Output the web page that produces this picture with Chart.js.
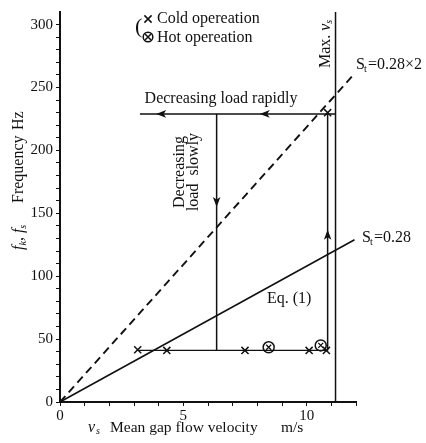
<!DOCTYPE html>
<html>
<head>
<meta charset="utf-8">
<script src="https://cdn.jsdelivr.net/npm/chart.js@4"></script>
<style>
html,body{margin:0;padding:0;background:#fff;}
#wrap{width:426px;height:443px;position:relative;}
</style>
</head>
<body>
<div id="wrap"><canvas id="c" width="426" height="443"></canvas></div>
<script>
// ---- data ----
const xTickLabels = [0, 5, 10];
const yTickLabels = [0, 50, 100, 150, 200, 250, 300];
const lineSt028 = [{x:0,y:0},{x:11.94,y:129}];
const lineSt028x2 = [{x:0,y:0},{x:11.94,y:261}];
const maxVsLine = [{x:11.17,y:0},{x:11.17,y:310}];
const coldLevel = [{x:3.15,y:41},{x:10.85,y:41}];
const slowPath = [{x:6.35,y:41},{x:6.35,y:229}];
const rapidPath = [{x:3.24,y:229},{x:11.17,y:229}];
const risePath = [{x:10.85,y:41},{x:10.85,y:229}];
const coldPoints = [{x:3.15,y:41.5},{x:4.33,y:41},{x:7.5,y:41},{x:10.1,y:41},{x:10.8,y:41},{x:10.85,y:230}];
const hotPoints = [{x:8.46,y:43.5},{x:10.57,y:45}];
// arrowheads: position and direction
const arrows = [
  {x:4.1,y:229,dir:'left'},
  {x:8.3,y:229,dir:'left'},
  {x:6.35,y:159,dir:'down'},
  {x:10.85,y:133,dir:'up'}
];

const SERIF = '"Liberation Serif", "DejaVu Serif", serif';
const FS = 16;

function lineDs(data, dash, w){
  return {type:'scatter', data, showLine:true, borderColor:'#111', borderWidth:w||1.5,
    borderDash: dash||[], pointRadius:0, fill:false};
}

const overlay = {
  id:'overlay',
  afterDatasetsDraw(chart){
    const ctx = chart.ctx, xs = chart.scales.x, ys = chart.scales.y;
    ctx.save();
    ctx.fillStyle = '#111'; ctx.strokeStyle = '#111';
    // arrowheads
    arrows.forEach(a=>{
      const px = xs.getPixelForValue(a.x), py = ys.getPixelForValue(a.y);
      ctx.save(); ctx.translate(px,py);
      const rot = {left:Math.PI, right:0, up:-Math.PI/2, down:Math.PI/2}[a.dir];
      ctx.rotate(rot);
      ctx.beginPath(); ctx.moveTo(5,0); ctx.lineTo(-5,-3.8); ctx.lineTo(-2.5,0); ctx.lineTo(-5,3.8); ctx.closePath(); ctx.fill();
      ctx.restore();
    });
    const F = (s, it) => (it ? 'italic ' : '') + s + 'px ' + SERIF;
    // texts
    ctx.textBaseline = 'middle';
    ctx.font = F(FS);
    ctx.textAlign = 'center';
    ctx.fillText('Decreasing load rapidly', 221, 99);
    ctx.textAlign = 'left';
    ctx.fillText('Eq. (1)', 267, 299);
    // St labels
    function stLabel(x,y,rest){
      ctx.textAlign='left';
      ctx.font = F(FS);
      ctx.fillText('S', x, y);
      const w = ctx.measureText('S').width;
      ctx.font = F(10);
      ctx.fillText('t', x+w-1, y+4);
      ctx.font = F(FS);
      ctx.fillText(rest, x+w+3, y);
    }
    stLabel(356, 65, '=0.28\u00D72');
    stLabel(362, 238, '=0.28');
    // Decreasing load slowly (rotated)
    ctx.save();
    ctx.translate(180, 172); ctx.rotate(-Math.PI/2);
    ctx.textAlign='center'; ctx.font = F(FS);
    ctx.fillText('Decreasing', 0, 0);
    ctx.fillText('load  slowly', 0, 14);
    ctx.restore();
    // Max. vs
    ctx.save();
    ctx.translate(326, 40); ctx.rotate(-Math.PI/2);
    ctx.textAlign='left'; ctx.font = F(FS);
    const mw = ctx.measureText('Max. ').width;
    ctx.fillText('Max. ', -28, 0);
    ctx.font = F(FS, true);
    ctx.fillText('v', -28+mw, 0);
    ctx.font = F(10, true);
    ctx.fillText('s', -28+mw+7, 3);
    ctx.restore();
    // Legend
    ctx.textAlign='left';
    ctx.font = F(22);
    ctx.fillText('(', 135, 27);
    ctx.font = F(FS);
    ctx.fillText('Cold opereation', 157, 19);
    ctx.fillText('Hot opereation', 157, 38);
    ctx.lineWidth = 1.5;
    function cross(cx,cy,r){
      ctx.beginPath();
      ctx.moveTo(cx-r,cy-r); ctx.lineTo(cx+r,cy+r);
      ctx.moveTo(cx+r,cy-r); ctx.lineTo(cx-r,cy+r);
      ctx.stroke();
    }
    cross(148,19,3.6);
    ctx.beginPath(); ctx.arc(148,37,4.8,0,Math.PI*2); ctx.stroke();
    cross(148,37,3);
    // Y axis title
    ctx.save();
    ctx.translate(19, 0); ctx.rotate(-Math.PI/2);
    ctx.textAlign='left';
    let pos = -250;
    ctx.font = F(FS, true); ctx.fillText('f', pos, 0); pos += ctx.measureText('f').width;
    ctx.font = F(10, true); ctx.fillText('k', pos, 4); pos += ctx.measureText('k').width;
    ctx.font = F(FS); ctx.fillText(', ', pos, 0); pos += ctx.measureText(', ').width;
    ctx.font = F(FS, true); ctx.fillText('f', pos, 0); pos += ctx.measureText('f').width;
    ctx.font = F(10, true); ctx.fillText('s', pos, 4);
    ctx.font = F(FS); ctx.fillText('Frequency', -203, 0);
    ctx.fillText('Hz', -130, 0);
    ctx.restore();
    // X axis title
    ctx.textAlign='left';
    ctx.font = F(FS, true); ctx.fillText('v', 88, 428);
    ctx.font = F(10, true); ctx.fillText('s', 96, 431);
    ctx.font = F(15.5); ctx.fillText('Mean gap flow velocity', 110, 428);
    ctx.fillText('m/s', 281, 428);
    ctx.restore();
  }
};

new Chart(document.getElementById('c'), {
  type:'scatter',
  data:{datasets:[
    lineDs(lineSt028, null, 1.6),
    lineDs(lineSt028x2,[8,5],1.9),
    lineDs(maxVsLine),
    lineDs(coldLevel, null, 1.3),
    lineDs(slowPath),
    lineDs(rapidPath),
    lineDs(risePath),
    {type:'scatter', data:coldPoints, pointStyle:'crossRot', pointRadius:5, borderColor:'#111', borderWidth:1.5, backgroundColor:'#111'},
    {type:'scatter', data:hotPoints, pointStyle:'circle', pointRadius:5.5, borderColor:'#111', borderWidth:1.5, backgroundColor:'rgba(255,255,255,0)'},
    {type:'scatter', data:hotPoints, pointStyle:'crossRot', pointRadius:3.5, borderColor:'#111', borderWidth:1.3}
  ]},
  options:{
    responsive:false, animation:false, devicePixelRatio:1,
    layout:{padding:{top:7,right:70,left:0,bottom:0}},
    plugins:{legend:{display:false}, tooltip:{enabled:false}},
    scales:{
      x:{type:'linear', min:0, max:12,
        afterFit(s){ s.height = 41; },
        ticks:{stepSize:1, autoSkip:false, maxRotation:0, padding:1, color:'#111',
          font:{family:SERIF, size:15},
          callback:(v)=> xTickLabels.includes(v) ? String(v) : ''},
        grid:{drawOnChartArea:false, drawTicks:true, tickLength:4, color:'#111', lineWidth:1},
        border:{color:'#111', width:2}
      },
      y:{type:'linear', min:0, max:310,
        afterFit(s){ s.width = 60; },
        afterBuildTicks(s){ s.ticks = s.ticks.filter(t=>t.value<=300); },
        ticks:{stepSize:10, autoSkip:false, padding:3, color:'#111',
          font:{family:SERIF, size:15},
          callback:(v)=> yTickLabels.includes(v) ? String(v) : ''},
        grid:{drawOnChartArea:false, drawTicks:true, tickLength:4, color:'#111', lineWidth:1},
        border:{color:'#111', width:2}
      }
    }
  },
  plugins:[overlay]
});
</script>
</body>
</html>
